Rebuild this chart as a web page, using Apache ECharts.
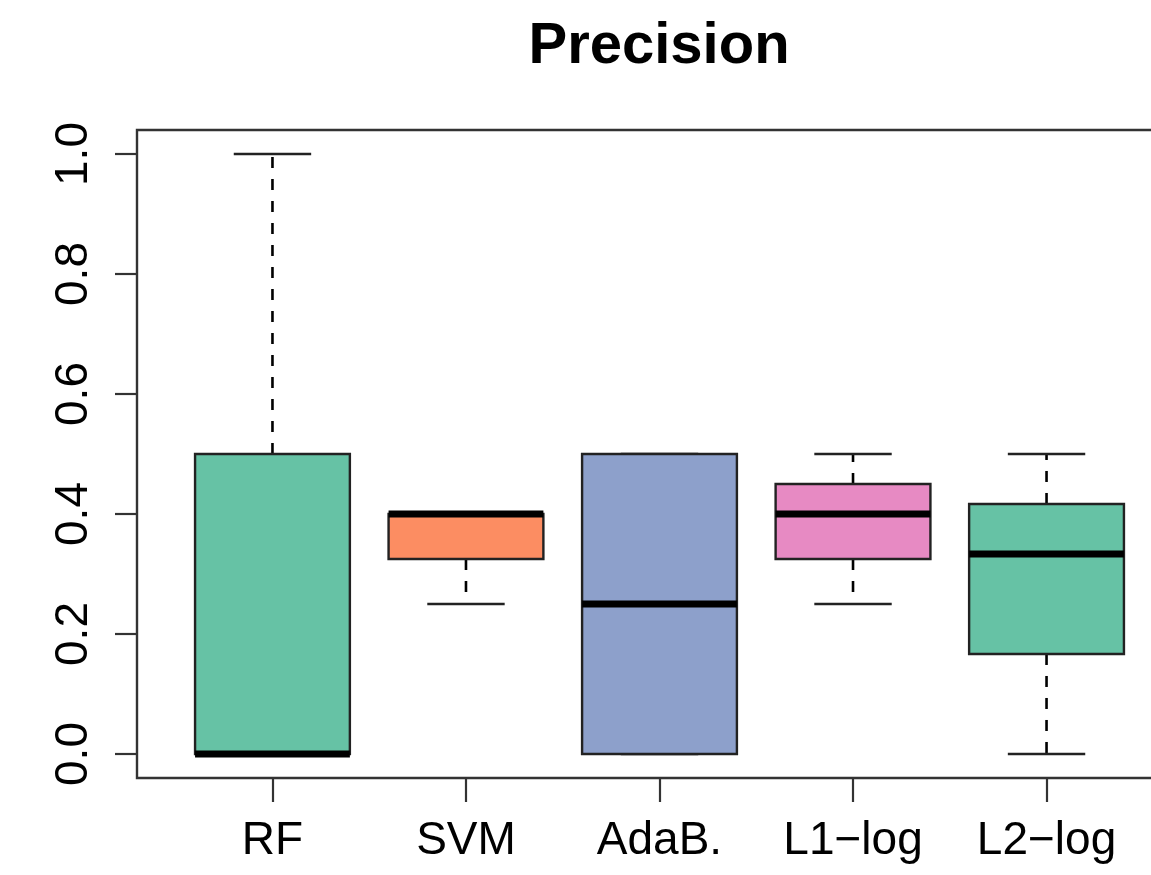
<!DOCTYPE html>
<html>
<head>
<meta charset="utf-8">
<script src="https://cdn.jsdelivr.net/npm/echarts@6/dist/echarts.min.js"></script>
<style>html,body{margin:0;padding:0;background:#fff}#c{width:1151px;height:875px}</style>
</head>
<body>
<div id="c"></div>
<script>
const categories = ['RF', 'SVM', 'AdaB.', 'L1\u2212log', 'L2\u2212log'];
const whiskerLow = [0.0, 0.25, 0.0, 0.25, 0.0];
const q1 = [0.0, 0.325, 0.0, 0.325, 0.1667];
const median = [0.0, 0.4, 0.25, 0.4, 0.3333];
const q3 = [0.5, 0.4, 0.5, 0.45, 0.4167];
const whiskerHigh = [1.0, 0.4, 0.5, 0.5, 0.5];
const yTicks = [0, 0.2, 0.4, 0.6, 0.8, 1.0];
const colors = ['#66C2A5', '#FC8D62', '#8DA0CB', '#E78AC3', '#66C2A5'];

const data = categories.map((c, i) => [i + 1, whiskerLow[i], q1[i], median[i], q3[i], whiskerHigh[i]]);
const FONT = '"Liberation Sans", Arial, Helvetica, sans-serif';

const chart = echarts.init(document.getElementById('c'), null, {renderer: 'canvas'});
chart.setOption({
  backgroundColor: '#fff',
  animation: false,
  title: {
    text: 'Precision', left: 654, top: 13, textAlign: 'center',
    textStyle: {fontFamily: FONT, fontWeight: 'bold', fontSize: 58, color: '#000'}
  },
  grid: {left: 137, top: 130, width: 1045, height: 648, outerBoundsMode: 'none', containLabel: false,
         show: true, borderColor: '#333', borderWidth: 2.4, backgroundColor: 'transparent'},
  xAxis: {
    type: 'value', min: 0.3, max: 5.7,
    axisLine: {show: false, onZero: false},
    splitLine: {show: false},
    axisTick: {show: true, length: 24, customValues: [1, 2, 3, 4, 5], lineStyle: {color: '#333', width: 2.2}},
    axisLabel: {
      customValues: [1, 2, 3, 4, 5], margin: 40,
      formatter: v => categories[Math.round(v) - 1] || '',
      fontFamily: FONT, fontSize: 46, color: '#000'
    }
  },
  yAxis: {
    type: 'value', min: -0.04, max: 1.04,
    axisLine: {show: false, onZero: false},
    splitLine: {show: false},
    axisTick: {show: true, length: 22, customValues: yTicks, lineStyle: {color: '#333', width: 2.2}},
    axisLabel: {
      customValues: yTicks, rotate: 90, margin: 40,
      formatter: v => v.toFixed(1),
      fontFamily: FONT, fontSize: 46, color: '#000'
    }
  },
  series: [{
    type: 'custom',
    data: data,
    clip: false,
    encode: {x: 0, y: [1, 2, 3, 4, 5]},
    renderItem: function (params, api) {
      const x = api.value(0);
      const idx = params.dataIndex;
      const pLo = api.coord([x, api.value(1)]);
      const pQ1 = api.coord([x, api.value(2)]);
      const pMed = api.coord([x, api.value(3)]);
      const pQ3 = api.coord([x, api.value(4)]);
      const pHi = api.coord([x, api.value(5)]);
      const bw = api.size([0.8, 0])[0];
      const cw = api.size([0.4, 0])[0];
      const cx = pMed[0];
      const dash = {stroke: '#000', lineWidth: 2.6, lineDash: [11, 11]};
      const solid = {stroke: '#222', lineWidth: 2.4};
      return {
        type: 'group',
        children: [
          {type: 'line', shape: {x1: cx, y1: pQ3[1], x2: cx, y2: pHi[1]}, style: dash},
          {type: 'line', shape: {x1: cx, y1: pQ1[1], x2: cx, y2: pLo[1]}, style: dash},
          {type: 'line', shape: {x1: cx - cw / 2, y1: pHi[1], x2: cx + cw / 2, y2: pHi[1]}, style: solid},
          {type: 'line', shape: {x1: cx - cw / 2, y1: pLo[1], x2: cx + cw / 2, y2: pLo[1]}, style: solid},
          {type: 'rect', shape: {x: cx - bw / 2, y: pQ3[1], width: bw, height: pQ1[1] - pQ3[1]},
           style: {fill: colors[idx], stroke: '#222', lineWidth: 2.4}},
          {type: 'line', shape: {x1: cx - bw / 2, y1: pMed[1], x2: cx + bw / 2, y2: pMed[1]},
           style: {stroke: '#000', lineWidth: 7}}
        ]
      };
    }
  }]
});
</script>
</body>
</html>
